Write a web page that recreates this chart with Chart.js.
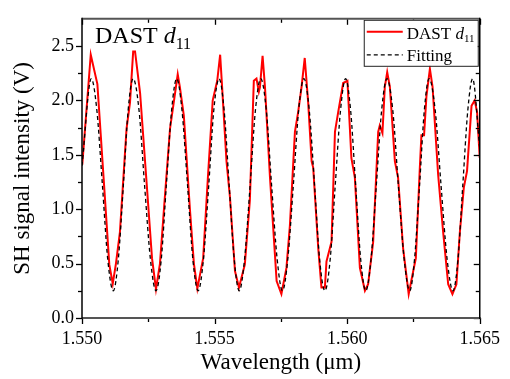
<!DOCTYPE html>
<html><head><meta charset="utf-8">
<script src="https://cdn.jsdelivr.net/npm/chart.js@4.4.1/dist/chart.umd.min.js"></script>
<style>html,body{margin:0;padding:0;background:#fff;overflow:hidden}canvas{display:block}</style>
</head><body>
<canvas id="c" width="510" height="379"></canvas>
<script>
const redX = [1.55001,1.55033,1.55058,1.55083,1.55103,1.55116,1.55128,1.55143,1.55168,1.55181,
1.55193,1.55200,1.55219,1.55244,1.55264,1.55279,1.55294,1.55309,1.55332,1.55361,
1.55369,1.55384,1.55407,1.55422,1.55435,1.55457,1.55475,1.55493,1.55510,1.55521,
1.55527,1.55545,1.55558,1.55577,1.55592,1.55614,1.55633,1.55648,1.55658,1.55667,
1.55671,1.55681,1.55690,1.55709,1.55734,1.55752,1.55771,1.55784,1.55803,1.55815,
1.55828,1.55840,1.55853,1.55866,1.55872,1.55891,1.55903,1.55916,1.55922,1.55941,
1.55954,1.55966,1.55985,1.56001,1.56016,1.56029,1.56048,1.56067,1.56079,1.56098,
1.56117,1.56123,1.56133,1.56142,1.56151,1.56161,1.56180,1.56192,1.56211,1.56232,
1.56249,1.56259,1.56274,1.56280,1.56290,1.56299,1.56312,1.56322,1.56343,1.56362,
1.56381,1.56397,1.56412,1.56425,1.56440,1.56452,1.56469,1.56481,1.56490,1.56500];
const redY = [1.41,2.42,2.15,1.23,0.49,0.315,0.5,0.79,1.74,1.98,
2.45,2.45,2.07,1.23,0.55,0.265,0.5,1.0,1.74,2.24,
2.125,1.86,1.0,0.5,0.27,0.55,1.3,2.0,2.18,2.42,
2.18,1.44,1.11,0.43,0.28,0.49,1.08,2.18,2.2,2.08,
2.12,2.41,2.125,1.29,0.34,0.22,0.46,0.85,1.71,1.89,
2.125,2.39,1.98,1.44,1.38,0.64,0.28,0.28,0.52,0.70,
1.71,1.89,2.16,2.18,1.47,1.29,0.46,0.25,0.31,0.70,
1.71,1.77,1.70,2.125,2.26,2.125,1.44,1.29,0.64,0.22,
0.43,0.55,1.38,1.68,1.68,2.04,2.29,2.125,1.32,0.79,
0.31,0.22,0.31,0.79,1.2,1.35,1.95,2.0,1.89,1.47];
const fitX = [1.55000,1.55035,
1.55056,1.55077,1.55097,1.55118, 1.55137,1.55156,1.55174,1.55193,
1.55215,1.55236,1.55258,1.55279, 1.55299,1.55318,1.55338,1.55357,
1.55377,1.55398,1.55418,1.55438, 1.55458,1.55478,1.55497,1.55517,
1.55536,1.55555,1.55574,1.55593, 1.55613,1.55634,1.55654,1.55674,
1.55695,1.55715,1.55736,1.55756, 1.55776,1.55797,1.55817,1.55837,
1.55857,1.55877,1.55896,1.55916, 1.55936,1.55955,1.55975,1.55994,
1.56013,1.56032,1.56051,1.56070, 1.56090,1.56110,1.56130,1.56150,
1.56172,1.56193,1.56215,1.56236, 1.56254,1.56273,1.56291,1.56309,
1.56332,1.56354,1.56377,1.56399, 1.56418,1.56436,1.56455,1.56473,
1.56500];
const fitY = [1.40,2.20,
1.91,1.22,0.54,0.25, 0.54,1.22,1.91,2.20,
1.91,1.22,0.54,0.25, 0.54,1.22,1.91,2.20,
1.91,1.22,0.54,0.25, 0.54,1.22,1.91,2.20,
1.91,1.22,0.54,0.25, 0.54,1.22,1.91,2.20,
1.91,1.22,0.54,0.25, 0.54,1.22,1.91,2.20,
1.91,1.22,0.54,0.25, 0.54,1.22,1.91,2.20,
1.91,1.22,0.54,0.25, 0.54,1.22,1.91,2.20,
1.91,1.22,0.54,0.25, 0.54,1.22,1.91,2.20,
1.91,1.22,0.54,0.25, 0.54,1.22,1.91,2.20,
1.56];
const xMajorTicks = [1.550,1.555,1.560,1.565];
const xMinorTicks = [1.5525,1.5575,1.5625];
const yMajorTicks = [0,0.5,1.0,1.5,2.0,2.5];
const yMinorTicks = [0.25,0.75,1.25,1.75,2.25];
const seriesNames = ['DAST', 'Fitting'];
const xTitle = 'Wavelength (μm)';
const yTitle = 'SH signal intensity (V)';

const FONT = "'Liberation Serif', 'Times New Roman', serif";
Chart.defaults.font.family = FONT;
Chart.defaults.color = '#000';

function rich(ctx, x, y, parts) {
  let cx = x;
  parts.forEach(p => {
    ctx.font = p.font;
    ctx.fillText(p.t, cx, y + (p.dy || 0));
    cx += ctx.measureText(p.t).width;
  });
}

const framePlugin = {
  id: 'frame',
  afterDatasetsDraw(chart) {
    const {ctx, chartArea: a, scales: {x, y}} = chart;
    ctx.save();
    const tk = (x1, y1, x2, y2) => { ctx.beginPath(); ctx.moveTo(x1, y1); ctx.lineTo(x2, y2); ctx.stroke(); };
    ctx.strokeStyle = '#000'; ctx.lineWidth = 1.3;
    xMajorTicks.forEach(v => { const p = Math.round(x.getPixelForValue(v)) + 0.5; tk(p, a.bottom, p, a.bottom + 6); tk(p, a.top, p, a.top + 6); });
    xMinorTicks.forEach(v => { const p = Math.round(x.getPixelForValue(v)) + 0.5; tk(p, a.bottom, p, a.bottom + 4); tk(p, a.top, p, a.top + 4); });
    yMajorTicks.forEach(v => { const p = Math.round(y.getPixelForValue(v)) + 0.5; tk(a.left - 6, p, a.left, p); tk(a.right, p, a.right - 6, p); });
    yMinorTicks.forEach(v => { const p = Math.round(y.getPixelForValue(v)) + 0.5; tk(a.left - 4, p, a.left, p); tk(a.right, p, a.right - 4, p); });
    ctx.strokeStyle = '#555'; ctx.lineWidth = 2;
    tk(a.left, a.top, a.right, a.top);
    tk(a.left, a.bottom, a.right + 1, a.bottom);
    ctx.strokeStyle = '#000'; ctx.lineWidth = 1.5;
    tk(a.left, a.top - 1, a.left, a.bottom + 1);
    tk(a.right, a.top - 1, a.right, a.bottom + 1);
    ctx.restore();
  },
  afterDraw(chart) {
    const {ctx, chartArea: a} = chart;
    ctx.save();
    ctx.fillStyle = '#000';
    ctx.textBaseline = 'alphabetic';
    // panel label
    rich(ctx, a.left + 13, a.top + 24, [
      {t: seriesNames[0] + ' ', font: `24px ${FONT}`},
      {t: 'd', font: `italic 24px ${FONT}`},
      {t: '11', font: `16px ${FONT}`, dy: 6}
    ]);
    // legend box
    const bx = a.right - 116, by = a.top + 1, bw = 114, bh = 46;
    ctx.fillStyle = '#fff';
    ctx.fillRect(bx, by, bw, bh);
    ctx.strokeStyle = '#222'; ctx.lineWidth = 1;
    ctx.strokeRect(bx + 0.5, by + 0.5, bw, bh);
    // row 1
    ctx.strokeStyle = '#ff0000'; ctx.lineWidth = 2;
    ctx.beginPath(); ctx.moveTo(bx + 3, by + 12); ctx.lineTo(bx + 39, by + 12); ctx.stroke();
    ctx.fillStyle = '#000';
    rich(ctx, bx + 43, by + 19, [
      {t: seriesNames[0] + ' ', font: `17px ${FONT}`},
      {t: 'd', font: `italic 17px ${FONT}`},
      {t: '11', font: `11px ${FONT}`, dy: 3}
    ]);
    // row 2
    ctx.strokeStyle = '#000'; ctx.lineWidth = 1.3; ctx.setLineDash([4, 3]);
    ctx.beginPath(); ctx.moveTo(bx + 3, by + 35); ctx.lineTo(bx + 39, by + 35); ctx.stroke();
    ctx.setLineDash([]);
    rich(ctx, bx + 43, by + 41, [{t: seriesNames[1], font: `17px ${FONT}`}]);
    ctx.restore();
  }
};

new Chart(document.getElementById('c'), {
  type: 'scatter',
  data: {
    datasets: [
      {
        label: seriesNames[0],
        data: redX.map((v, i) => ({x: v, y: redY[i]})),
        showLine: true, borderColor: '#ff0000', borderWidth: 2, pointRadius: 0, tension: 0, order: 2
      },
      {
        label: seriesNames[1],
        data: fitX.map((v, i) => ({x: v, y: fitY[i]})),
        showLine: true, borderColor: '#000', borderWidth: 1.3, borderDash: [4, 3], pointRadius: 0,
        cubicInterpolationMode: 'monotone', order: 1
      }
    ]
  },
  options: {
    responsive: false, animation: false, devicePixelRatio: 1,
    layout: {padding: {left: 0, right: 30, top: 10, bottom: 0}},
    plugins: {legend: {display: false}, tooltip: {enabled: false}},
    scales: {
      x: {
        type: 'linear', min: 1.550, max: 1.565,
        grid: {display: false, drawTicks: false}, border: {display: false},
        afterBuildTicks: s => { s.ticks = xMajorTicks.map(v => ({value: v})); },
        ticks: {autoSkip: false, maxRotation: 0, padding: 10, color: '#000', font: {size: 18}, callback: v => Number(v).toFixed(3)},
        title: {display: true, text: xTitle, color: '#000', font: {size: 23}, padding: {top: 0, bottom: 2}},
        afterFit: s => { s.height = 61; }
      },
      y: {
        type: 'linear', min: 0, max: 2.75,
        grid: {display: false, drawTicks: false}, border: {display: false},
        afterBuildTicks: s => { s.ticks = yMajorTicks.map(v => ({value: v})); },
        ticks: {padding: 8, color: '#000', font: {size: 18}, callback: v => Number(v).toFixed(1)},
        title: {display: true, text: yTitle, color: '#000', font: {size: 23}, padding: {top: 9, bottom: 0}},
        afterFit: s => { s.width = 82; }
      }
    }
  },
  plugins: [framePlugin]
});
</script>
</body></html>
